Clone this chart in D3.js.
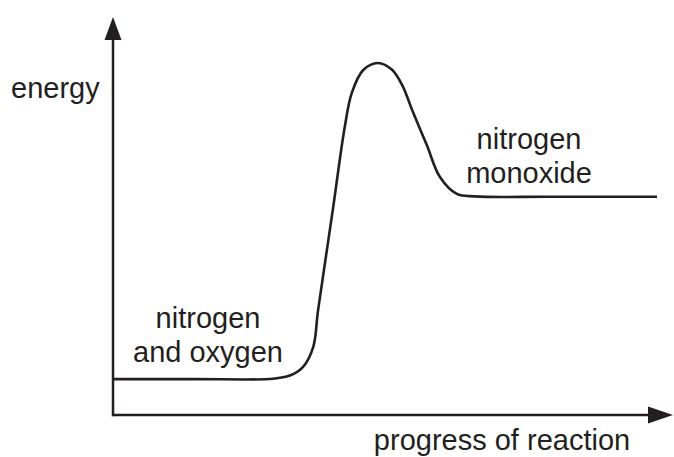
<!DOCTYPE html>
<html>
<head>
<meta charset="utf-8">
<script src="https://cdn.jsdelivr.net/npm/d3@7"></script>
<style>
  html, body { margin: 0; padding: 0; background: #fff; }
  text { font-family: "Liberation Sans", Arial, Helvetica, sans-serif; fill: #231f20; }
</style>
</head>
<body>
<svg id="chart" width="674" height="457"></svg>
<script>
'use strict';

// progress of reaction (0-100) and energy (0-100)
var progress = [0, 15, 29.4, 32.5, 34.9, 36.8, 37.7, 40.4, 42.6, 43.9, 46.0, 48.7, 51.2, 53.2, 55.1, 57.7, 60.1, 63.2, 66.5, 80, 100];
var energy = [10.2, 10.2, 10.3, 11.2, 13.6, 19.3, 29.8, 58.2, 81.8, 91.5, 98.0, 100, 98.2, 93.6, 86.2, 76.6, 67.6, 62.8, 62.1, 62.0, 62.0];

var axisLabels = ['energy', 'progress of reaction'];
var reactantLabel = ['nitrogen', 'and oxygen'];
var productLabel = ['nitrogen', 'monoxide'];

var ink = '#231f20';
var fontSize = 29;
var svg = d3.select('#chart');

var x = d3.scaleLinear().domain([0, 100]).range([113, 657]);
var y = d3.scaleLinear().domain([0, 100]).range([415, 63]);

var points = progress.map(function(p, i) {
  return { p: p, e: energy[i] };
});

// axes: plain lines with filled arrow heads, no ticks
var x0 = x.range()[0];
var y0 = y.range()[0];
var xEnd = 673;
var yEnd = 17;

svg.append('line')
  .attr('x1', x0).attr('y1', y0)
  .attr('x2', xEnd - 20).attr('y2', y0)
  .attr('stroke', ink)
  .attr('stroke-width', 2.5);

svg.append('line')
  .attr('x1', x0).attr('y1', y0 + 1.2)
  .attr('x2', x0).attr('y2', yEnd + 20)
  .attr('stroke', ink)
  .attr('stroke-width', 2.5);

svg.append('path')
  .attr('d', 'M' + xEnd + ',' + y0 + 'L' + (xEnd - 25) + ',' + (y0 - 8.5) + 'L' + (xEnd - 25) + ',' + (y0 + 8.5) + 'Z')
  .attr('fill', ink);

svg.append('path')
  .attr('d', 'M' + x0 + ',' + yEnd + 'L' + (x0 - 8.5) + ',' + (yEnd + 23) + 'L' + (x0 + 8.5) + ',' + (yEnd + 23) + 'Z')
  .attr('fill', ink);

var line = d3.line()
  .x(function(d) { return x(d.p); })
  .y(function(d) { return y(d.e); })
  .curve(d3.curveCatmullRom.alpha(0.5));

svg.append('path')
  .datum(points)
  .attr('d', line)
  .attr('fill', 'none')
  .attr('stroke', ink)
  .attr('stroke-width', 2.6)
  .attr('stroke-linejoin', 'round');

svg.append('text')
  .attr('x', 11)
  .attr('y', 98)
  .attr('font-size', fontSize)
  .text(axisLabels[0]);

svg.append('text')
  .attr('x', 502)
  .attr('y', 450)
  .attr('font-size', fontSize)
  .attr('text-anchor', 'middle')
  .text(axisLabels[1]);

function stacked(lines, cx, baseline) {
  svg.append('g')
    .selectAll('text')
    .data(lines)
    .enter()
    .append('text')
    .attr('x', cx)
    .attr('y', function(d, i) { return baseline + i * 34; })
    .attr('font-size', fontSize)
    .attr('text-anchor', 'middle')
    .text(function(d) { return d; });
}

stacked(reactantLabel, 208, 328);
stacked(productLabel, 529, 149);
</script>
</body>
</html>
